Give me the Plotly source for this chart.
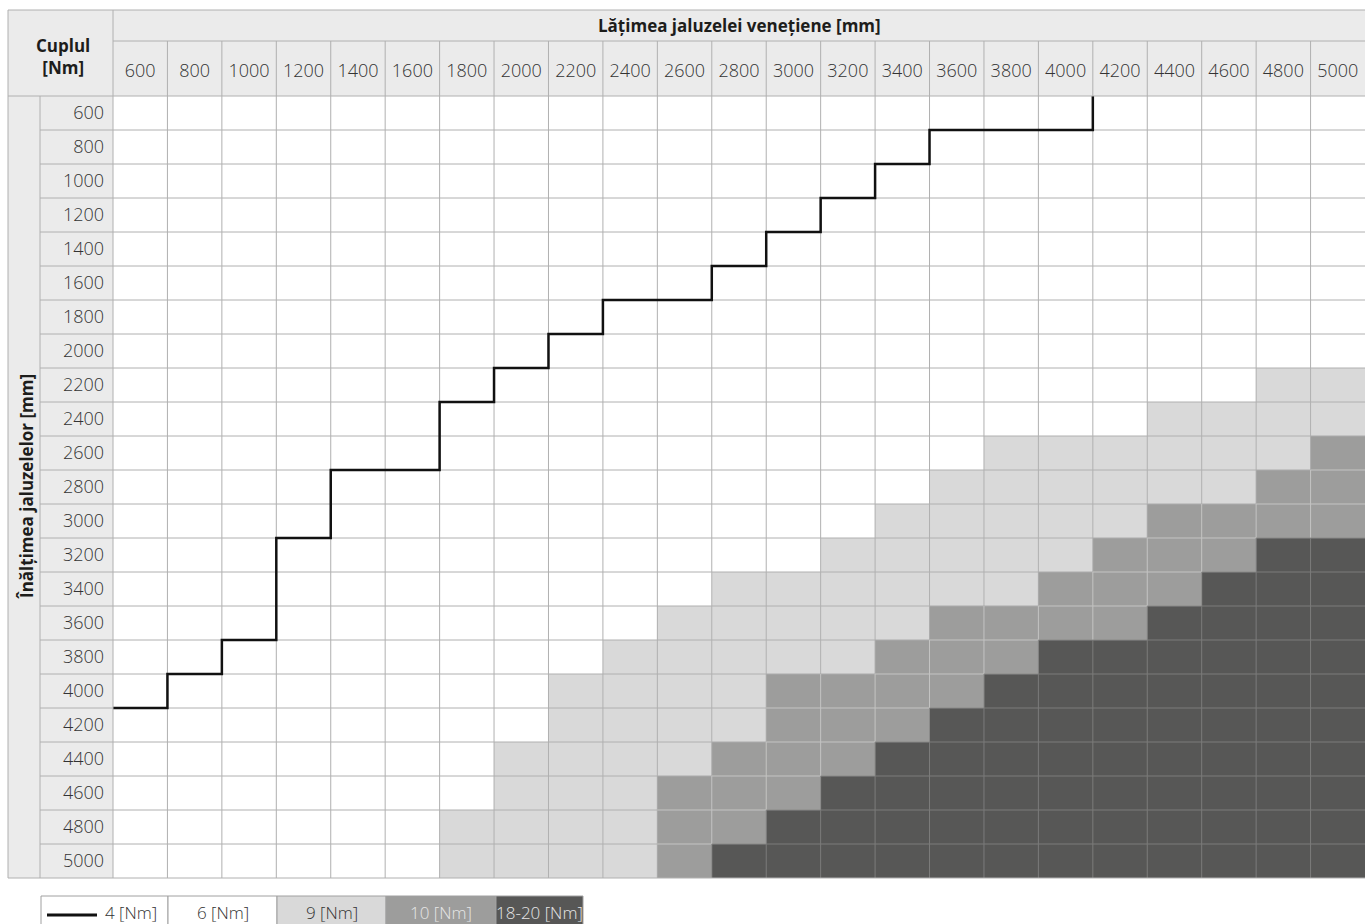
import plotly.graph_objects as go

# table axes (mm)
widths = [600, 800, 1000, 1200, 1400, 1600, 1800, 2000, 2200, 2400, 2600, 2800,
          3000, 3200, 3400, 3600, 3800, 4000, 4200, 4400, 4600, 4800, 5000]
heights = [600, 800, 1000, 1200, 1400, 1600, 1800, 2000, 2200, 2400, 2600, 2800,
           3000, 3200, 3400, 3600, 3800, 4000, 4200, 4400, 4600, 4800, 5000]

# for every height row: width from which the 9 / 10 / 18-20 Nm zones start (None = not reached)
nm9_from = [None, None, None, None, None, None, None, None, 4800, 4400, 3800, 3600,
            3400, 3200, 2800, 2600, 2400, 2200, 2200, 2000, 2000, 1800, 1800]
nm10_from = [None, None, None, None, None, None, None, None, None, None, 5000, 4800,
             4400, 4200, 4000, 3600, 3400, 3000, 3000, 2800, 2600, 2600, 2600]
nm18_from = [None, None, None, None, None, None, None, None, None, None, None, None,
             None, 4800, 4600, 4400, 4000, 3800, 3600, 3400, 3200, 3000, 2800]

# 4 Nm limit: max height per width (widths 600..4000), nothing from 4200 on
nm4_max_height = [4000, 3800, 3600, 3000, 2600, 2600, 2200, 2000, 1800, 1600, 1600,
                  1400, 1200, 1000, 800, 600, 600, 600]

legend_labels = ["4 [Nm]", "6 [Nm]", "9 [Nm]", "10 [Nm]", "18-20 [Nm]"]
zone_colors = ["#ffffff", "#d9d9d9", "#9d9d9c", "#575756"]

FONT = "Open Sans"
W, H = 1365, 924
L, R, T, B = 113, 0, 96, 46
PW, PH = W - L - R, H - T - B
GRID = "#b0b0b0"


def px(x):
    return (x - L) / PW


def py(y):
    return (H - B - y) / PH


def zone(w, i):
    z = 0
    for level, start in enumerate([nm9_from[i], nm10_from[i], nm18_from[i]], 1):
        if start is not None and w >= start:
            z = level
    return z


z = [[zone(w, i) for w in widths] for i in range(len(heights))]
half = (widths[1] - widths[0]) / 2


def grid_color(a, b):
    hi, lo = max(a, b), min(a, b)
    if hi == 3:
        return "#7c7c7b" if lo == 3 else "#8a8a89"
    if hi == 2:
        return "#c4c4c3" if lo == 2 else "#ababab"
    return GRID


# cell borders, coloured by the two cells they separate
segments = {}
for r in range(len(heights)):
    for c in range(1, len(widths)):
        xs = (widths[c - 1] + widths[c]) / 2
        seg = segments.setdefault(grid_color(z[r][c - 1], z[r][c]), ([], []))
        seg[0].extend([xs, xs, None])
        seg[1].extend([heights[r] - half, heights[r] + half, None])
for r in range(1, len(heights)):
    ys = (heights[r - 1] + heights[r]) / 2
    for c in range(len(widths)):
        seg = segments.setdefault(grid_color(z[r - 1][c], z[r][c]), ([], []))
        seg[0].extend([widths[c] - half, widths[c] + half, None])
        seg[1].extend([ys, ys, None])

# step line along cell borders
line_x, line_y = [], []
for w, hmax in zip(widths, nm4_max_height):
    line_x += [w - half, w + half]
    line_y += [hmax + half, hmax + half]
line_x.append(line_x[-1])
line_y.append(heights[0] - half)

fig = go.Figure()
fig.add_trace(go.Heatmap(
    x=widths, y=heights, z=z, zmin=0, zmax=3,
    colorscale=[[0, zone_colors[0]], [1 / 3, zone_colors[1]],
                [2 / 3, zone_colors[2]], [1, zone_colors[3]]],
    showscale=False, hoverinfo="skip",
))
for color, (sx, sy) in segments.items():
    fig.add_trace(go.Scatter(x=sx, y=sy, mode="lines", line=dict(color=color, width=1),
                             hoverinfo="skip", showlegend=False))
fig.add_trace(go.Scatter(
    x=line_x, y=line_y, mode="lines",
    line=dict(color="#111111", width=2.5), hoverinfo="skip", showlegend=False,
))

shapes = []
# header backgrounds
shapes.append(dict(type="rect", xref="paper", yref="paper", x0=px(8), x1=1, y0=1, y1=py(10),
                   fillcolor="#ebebeb", line_width=0, layer="below"))
shapes.append(dict(type="rect", xref="paper", yref="paper", x0=px(8), x1=0, y0=0, y1=1,
                   fillcolor="#ebebeb", line_width=0, layer="below"))


def hline(y, x0, x1, color=GRID, width=1):
    shapes.append(dict(type="line", xref="paper", yref="paper", x0=x0, x1=x1, y0=y, y1=y,
                       line=dict(color=color, width=width)))


def vline(x, y0, y1, color=GRID, width=1):
    shapes.append(dict(type="line", xref="paper", yref="paper", x0=x, x1=x, y0=y0, y1=y1,
                       line=dict(color=color, width=width)))


hline(py(10), px(8), 1)
hline(py(41), 0, 1)
hline(1, px(8), 1)
hline(0, px(8), 1)
vline(px(8), 0, py(10))
vline(0, 0, py(10))
vline(px(40), 0, 1)
n = len(widths)
for i in range(1, n):
    vline(i / n, 1, py(41))
m = len(heights)
for j in range(1, m):
    hline(1 - j / m, px(40), 0)

# legend
legend_edges = [41, 168, 277, 386, 496, 583]
legend_fill = ["#ffffff"] + zone_colors
legend_text = ["#333333", "#333333", "#333333", "#e6e6e6", "#e6e6e6"]
annotations = []
for k, lab in enumerate(legend_labels):
    x0, x1 = legend_edges[k], legend_edges[k + 1]
    shapes.append(dict(type="rect", xref="paper", yref="paper", x0=px(x0), x1=px(x1),
                       y0=py(935), y1=py(896), fillcolor=legend_fill[k],
                       line=dict(color="#a0a0a0", width=1)))
    cx = (x0 + x1) / 2 if k else 131
    annotations.append(dict(text=lab, x=px(cx), y=py(912), xref="paper", yref="paper",
                            showarrow=False, xanchor="center", yanchor="middle",
                            font=dict(family=FONT, size=17, weight=300,
                                      color=legend_text[k])))
shapes.append(dict(type="line", xref="paper", yref="paper", x0=px(47), x1=px(97),
                   y0=py(915), y1=py(915), line=dict(color="#111111", width=3)))

title_font = dict(family=FONT, size=17, color="#1d1d1b")
annotations += [
    dict(text="<b>Cuplul<br>[Nm]</b>", x=px(63), y=py(56), xref="paper", yref="paper",
         xanchor="center", yanchor="middle", showarrow=False, align="center",
         font=title_font),
    dict(text="<b>Lățimea jaluzelei venețiene [mm]</b>", x=0.5, y=py(26), xref="paper",
         yref="paper", xanchor="center", yanchor="middle", showarrow=False,
         font=title_font),
    dict(text="<b>Înălțimea jaluzelelor [mm]</b>", x=px(26), y=0.5, xref="paper",
         yref="paper", xanchor="center", yanchor="middle", showarrow=False,
         textangle=-90, font=title_font),
]

tick_font = dict(family=FONT, size=18, weight=300, color="#333333")
fig.update_layout(
    width=W, height=H,
    margin=dict(l=L, r=R, t=T, b=B, pad=0),
    paper_bgcolor="white", plot_bgcolor="white",
    font=dict(family=FONT, size=18, color="#333333"),
    shapes=shapes, annotations=annotations, showlegend=False,
)
fig.update_xaxes(side="top", range=[widths[0] - half, widths[-1] + half],
                 tickvals=widths, ticktext=[str(w) for w in widths], ticks="",
                 tickfont=tick_font, showgrid=False, zeroline=False, showline=False,
                 ticklabelstandoff=14, fixedrange=True)
fig.update_yaxes(range=[heights[-1] + half, heights[0] - half],
                 tickvals=heights, ticktext=[str(h) for h in heights], ticks="",
                 tickfont=tick_font, showgrid=False, zeroline=False, showline=False,
                 ticklabelstandoff=8, fixedrange=True)

fig.write_html("out.html", config={"displayModeBar": False},
               post_script="document.body.style.margin='0';")
